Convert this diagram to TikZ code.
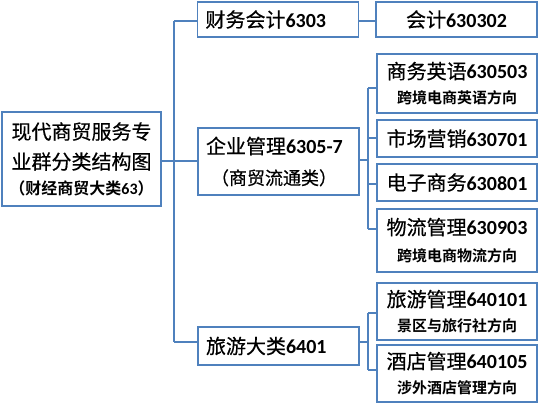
\documentclass[tikz,border=0pt]{standalone}
\usepackage{fontspec}
\setmainfont{Carlito}
\newfontfamily\cjkfont[FakeBold=0.5]{Noto Sans CJK SC}
\newfontfamily\cjkbold{Noto Sans CJK SC Bold}
\newcommand{\zhc}[1]{{\cjkfont #1}}
\newcommand{\zhb}[1]{{\cjkbold #1}}
\newcommand{\num}[1]{{\bfseries #1}}
\definecolor{boxblue}{RGB}{79,129,189}
\begin{document}
\begin{tikzpicture}[x=1pt,y=-1pt,
  box/.style={draw=boxblue, line width=1.6pt, fill=white, inner sep=0pt, outer sep=0pt, text=black},
  lbox/.style={box, text width=#1, align=left, inner xsep=8pt},
  cbox/.style={box, align=center},
  conn/.style={draw=boxblue, line width=1.6pt},
  big/.style={font=\fontsize{20}{24}\selectfont},
  two/.style={font=\fontsize{20}{25}\selectfont},
]
\useasboundingbox[fill=white] (0,0) rectangle (540,405);

% trunk and bus coordinates
\coordinate (t1) at (174,21);
\coordinate (t2) at (174,161);
\coordinate (t4) at (174,342);
\coordinate (b1) at (368,88);
\coordinate (b2) at (368,138);
\coordinate (b3) at (368,184);
\coordinate (b4) at (368,229);
\coordinate (bm) at (368,160);
\coordinate (c1) at (368,313);
\coordinate (c2) at (368,370);
\coordinate (cm) at (368,342);

% boxes
\node[cbox, font=\fontsize{20}{30}\selectfont, minimum width=159pt, minimum height=94pt] (root) at (81.5,159)
  {\zhc{现代商贸服务专}\\
   \zhc{业群分类结构图}\\[-5pt]
   {\fontsize{16}{18}\selectfont\zhb{（财经商贸大类}\num{63}\zhb{）}}};

\node[lbox=145pt, big, minimum height=35pt] (cw) at (278,19.5)
  {\zhc{财务会计}\num{6303}};
\node[lbox=145pt, font=\fontsize{20}{31}\selectfont, minimum height=67pt] (qy) at (278.5,161.5)
  {\zhc{企业管理}\num{6305-7}\\
   \hspace*{5pt}{\fontsize{18}{24}\selectfont\zhc{（商贸流通类）}}};
\node[lbox=145pt, big, minimum height=38pt] (ly) at (278.5,346)
  {\zhc{旅游大类}\num{6401}};

\node[cbox, big, minimum width=161pt, minimum height=35pt] (kj) at (456.5,19.5)
  {\zhc{会计}\num{630302}};
\node[cbox, two, minimum width=160pt, minimum height=59pt] (sw) at (457,83.5)
  {\zhc{商务英语}\num{630503}\\
   {\fontsize{15}{18}\selectfont\zhb{跨境电商英语方向}}};
\node[cbox, big, minimum width=160pt, minimum height=37pt] (sc) at (457,138.5)
  {\zhc{市场营销}\num{630701}};
\node[cbox, big, minimum width=160pt, minimum height=37pt] (dz) at (457,182.5)
  {\zhc{电子商务}\num{630801}};
\node[cbox, two, minimum width=160pt, minimum height=63pt] (wl) at (457,240.5)
  {\zhc{物流管理}\num{630903}\\[2pt]
   {\fontsize{15}{18}\selectfont\zhb{跨境电商物流方向}}};
\node[cbox, two, minimum width=160pt, minimum height=57pt] (lg) at (457,311.5)
  {\zhc{旅游管理}\num{640101}\\
   {\fontsize{15}{18}\selectfont\zhb{景区与旅行社方向}}};
\node[cbox, two, minimum width=160pt, minimum height=57pt] (jd) at (457,373.5)
  {\zhc{酒店管理}\num{640105}\\
   {\fontsize{15}{18}\selectfont\zhb{涉外酒店管理方向}}};

% connectors
\draw[conn] (t1) -- (t4);
\draw[conn] (root.east |- t2) -- (t2);
\draw[conn] (t1) -- (cw.west |- t1);
\draw[conn] (t2) -- (qy.west |- t2);
\draw[conn] (t4) -- (ly.west |- t4);
\draw[conn] (cw.east |- t1) -- (kj.west |- t1);

\draw[conn] (qy.east |- bm) -- (bm);
\draw[conn] (b1) -- (b4);
\draw[conn] (b1) -- (sw.west |- b1);
\draw[conn] (b2) -- (sc.west |- b2);
\draw[conn] (b3) -- (dz.west |- b3);
\draw[conn] (b4) -- (wl.west |- b4);

\draw[conn] (ly.east |- cm) -- (cm);
\draw[conn] (c1) -- (c2);
\draw[conn] (c1) -- (lg.west |- c1);
\draw[conn] (c2) -- (jd.west |- c2);
\end{tikzpicture}
\end{document}
